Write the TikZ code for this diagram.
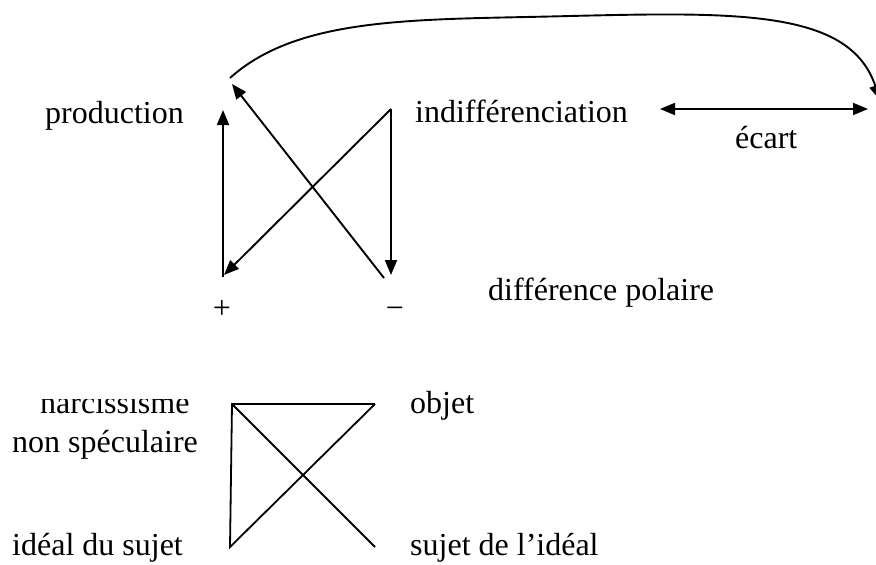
\documentclass[tikz,border=0pt]{standalone}
\usepackage{fontspec}
\setmainfont{Liberation Serif}
\usetikzlibrary{positioning, arrows.meta}

\begin{document}
\begin{tikzpicture}[
  x=1pt, y=-1pt,
  >={Triangle[length=15pt, width=12pt]},
  flow/.style={->, line width=1.9pt},
  link/.style={line width=1.8pt},
  term/.style={inner sep=0pt, anchor=base west},
  sign/.style={inner sep=0pt, anchor=base},
  every node/.style={font=\fontsize{32}{38}\selectfont}
]
  \useasboundingbox (0,0) rectangle (876,565);

  % upper scheme
  \node[term] (production) at (45,123) {production};
  \node[term] (indiff) at (415,122) {indifférenciation};
  \node[term] (ecart) at (735,148) {écart};
  \node[term] (polaire) at (488,300) {différence polaire};
  \node[sign] (plus) at (222,318) {+};
  \node[sign] (minus) at (395,318) {−};

  \coordinate (curveL) at (230,78);
  \coordinate (curveR) at (880,100);
  \coordinate (upTip) at (223,110);
  \coordinate (upFoot) at (223,277);
  \coordinate (cornerTR) at (391,109);
  \coordinate (downTip) at (391,275);
  \coordinate (plusTip) at (224,275);
  \coordinate (minusFoot) at (384,278);
  \coordinate (prodTip) at (232,84);
  \coordinate (gapL) at (660,109);
  \coordinate (gapR) at (868,109);

  \draw[flow] (upFoot) -- (upTip);
  \draw[flow] (minusFoot) -- (prodTip);
  \draw[flow] (cornerTR) -- (downTip);
  \draw[flow] (cornerTR) -- (plusTip);
  \draw[flow, <->] (gapL) -- (gapR);
  \draw[flow] (curveL) .. controls (300,15) and (420,20) .. (570,16)
                       .. controls (740,12) and (850,10) .. (curveR);

  % lower scheme
  \begin{scope}
    \clip (0,399.5) rectangle (220,430);
    \node[term] (narc) at (40,413) {narcissisme};
  \end{scope}
  \node[term] (spec) at (12,452) {non spéculaire};
  \node[term] (objet) at (410,413) {objet};
  \node[term] (ideal) at (12,555) {idéal du sujet};
  \node[term] (sujet) at (410,555) {sujet de l’idéal};

  \coordinate (boxTL) at (232,404);
  \coordinate (boxTR) at (375,404);
  \coordinate (boxBL) at (230,547);
  \coordinate (boxBR) at (375,547);

  \draw[link] (boxTR) -- (boxTL) -- (boxBL) -- (boxTR);
  \draw[link] (boxTL) -- (boxBR);
\end{tikzpicture}
\end{document}
